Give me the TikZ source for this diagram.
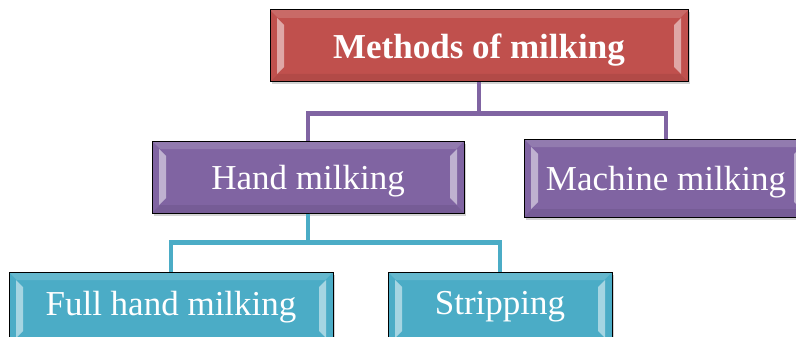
\documentclass[tikz,border=0pt]{standalone}
\usepackage{fontspec}
\setmainfont{Liberation Serif}
\usetikzlibrary{shadows}
\definecolor{methodred}{HTML}{C0504D}
\definecolor{methodpurple}{HTML}{8064A2}
\definecolor{methodteal}{HTML}{4BACC6}
\tikzset{
  bevelbox/.style={draw=black, line width=1pt, fill=#1, text=white, inner sep=0pt, text depth=0pt,
    font=\fontsize{35}{42}\selectfont,
    drop shadow={shadow xshift=1.5pt, shadow yshift=-2.5pt, opacity=0.35},
    path picture={
      % top and bottom bevel
      \fill[white, opacity=0.15] (path picture bounding box.north west) -- (path picture bounding box.north east)
        -- ([shift={(-8pt,-8pt)}]path picture bounding box.north east) -- ([shift={(8pt,-8pt)}]path picture bounding box.north west) -- cycle;
      \fill[black, opacity=0.07] (path picture bounding box.south west) -- (path picture bounding box.south east)
        -- ([shift={(-8pt,8pt)}]path picture bounding box.south east) -- ([shift={(8pt,8pt)}]path picture bounding box.south west) -- cycle;
      % side bevel strips
      \fill[white, opacity=0.5] ([shift={(7pt,-8pt)}]path picture bounding box.north west) -- ([shift={(14pt,-15pt)}]path picture bounding box.north west)
        -- ([shift={(14pt,15pt)}]path picture bounding box.south west) -- ([shift={(7pt,8pt)}]path picture bounding box.south west) -- cycle;
      \fill[white, opacity=0.5] ([shift={(-7pt,-8pt)}]path picture bounding box.north east) -- ([shift={(-14pt,-15pt)}]path picture bounding box.north east)
        -- ([shift={(-14pt,15pt)}]path picture bounding box.south east) -- ([shift={(-7pt,8pt)}]path picture bounding box.south east) -- cycle;
    }},
  link/.style={draw=#1, line width=4.5pt},
}
\begin{document}
\begin{tikzpicture}[x=1pt, y=-1pt]
  \useasboundingbox (0,0) rectangle (796,337);

  % Define nodes
  \node[bevelbox=methodred, minimum width=418pt, minimum height=72pt, font=\fontsize{35}{42}\selectfont\bfseries] (methods) at (479,46) {Methods of milking};
  \node[bevelbox=methodpurple, minimum width=312pt, minimum height=72pt] (hand) at (308,177) {Hand milking};
  \node[bevelbox=methodpurple, minimum width=284pt, minimum height=78pt] (machine) at (666,178) {Machine milking};
  \node[bevelbox=methodteal, minimum width=324pt, minimum height=74pt, text depth=12pt] (full) at (171,309) {Full hand milking};
  \node[bevelbox=methodteal, minimum width=224pt, minimum height=74pt, text depth=12pt] (strip) at (500,309) {Stripping};

  % Define edges
  \draw[link=methodpurple] (methods.south) -- ++(0,31) -| (hand.north);
  \draw[link=methodpurple] (methods.south) -- ++(0,31) -| (machine.north);
  \draw[link=methodteal] (hand.south) -- ++(0,29) -| (full.north);
  \draw[link=methodteal] (hand.south) -- ++(0,29) -| (strip.north);
\end{tikzpicture}
\end{document}
